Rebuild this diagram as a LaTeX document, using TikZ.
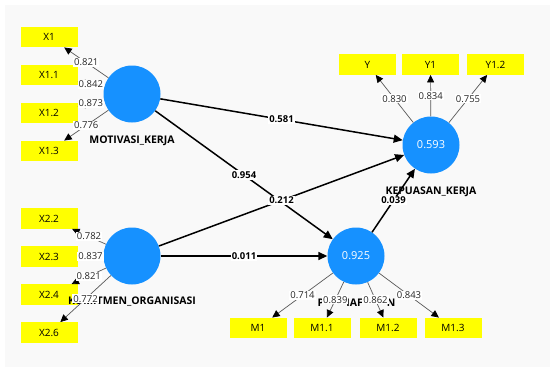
\documentclass[tikz,border=0pt]{standalone}
\usepackage{fontspec}
\setmainfont{Open Sans}
\usetikzlibrary{arrows.meta}
\definecolor{plsblue}{RGB}{22,145,255}
\definecolor{plsyellow}{RGB}{255,255,0}
\definecolor{bggrey}{RGB}{249,249,249}
\tikzset{
	lv/.style={circle,fill=plsblue,minimum size=57pt,inner sep=0pt,text=white,font=\fontsize{11}{13}\selectfont},
	mv/.style={rectangle,fill=plsyellow,minimum width=57pt,minimum height=20.5pt,inner sep=0pt,font=\fontsize{10}{12}\selectfont},
	lvname/.style={font=\fontsize{10.5}{12}\selectfont\bfseries,inner sep=0pt},
	ld/.style={draw=black!65,line width=0.7pt,-{Triangle[length=7.5pt,width=7pt,color=black]}},
	ldlab/.style={fill=white,inner sep=1pt,font=\fontsize{9.5}{11}\selectfont,text=black!85},
	pc/.style={line width=1.5pt,-{Triangle[length=9pt,width=8pt]}},
	pclab/.style={fill=white,inner sep=1pt,font=\fontsize{9.5}{11}\selectfont\bfseries}
}
\begin{document}
\begin{tikzpicture}[x=1pt,y=-1pt]
		\useasboundingbox (0,0) rectangle (555,372);
		\fill[bggrey] (5,5) rectangle (550,367);
		\node[lv] (mot) at (132,94) {};
		\node[lv] (kom) at (132,256) {};
		\node[lv] (kep) at (431,145) {0.593};
		\node[lv] (med) at (356,256) {0.925};
		\foreach \nm/\t/\y in {x1/X1/37,x11/X1.1/75,x12/X1.2/113,x13/X1.3/151}
			\node[mv] (\nm) at (49,\y) {\t};
		\foreach \nm/\t/\y in {x22/X2.2/218.5,x23/X2.3/256.5,x24/X2.4/294.5,x26/X2.6/332.5}
			\node[mv] (\nm) at (49,\y) {\t};
		\foreach \nm/\t/\x in {y0/Y/367.5,y1/Y1/430.5,y12/Y1.2/495.5}
			\node[mv] (\nm) at (\x,64.5) {\t};
		\foreach \nm/\t/\x in {m1/M1/258,m11/M1.1/322,m12/M1.2/388,m13/M1.3/453}
			\node[mv] (\nm) at (\x,328) {\t};
		\node[lvname] (motname) at (132,141) {MOTIVASI\_KERJA};
		\node[lvname] (komname) at (132,302) {KOMITMEN\_ORGANISASI};
		\node[lvname] (kepname) at (431,192) {KEPUASAN\_KERJA};
		\node[lvname] (medname) at (356.5,303) {P\hspace{22pt}IAF\hspace{24pt}N};
		\foreach \nm/\v in {x1/0.821,x11/0.842,x12/0.873,x13/0.776}
			\draw[ld] (mot) -- node[ldlab]{\v} (\nm);
		\foreach \nm/\v in {x22/0.782,x23/0.837,x24/0.821,x26/0.772}
			\draw[ld] (kom) -- node[ldlab]{\v} (\nm);
		\foreach \nm/\v in {y0/0.830,y1/0.834,y12/0.755}
			\draw[ld] (kep) -- node[ldlab]{\v} (\nm);
		\foreach \nm/\v in {m1/0.714,m11/0.839,m12/0.862,m13/0.843}
			\draw[ld] (med) -- node[ldlab]{\v} (\nm);
		\draw[pc] (mot) -- node[pclab]{0.581} (kep);
		\draw[pc] (mot) -- node[pclab]{0.954} (med);
		\draw[pc] (kom) -- node[pclab]{0.212} (kep);
		\draw[pc] (kom) -- node[pclab]{0.011} (med);
		\draw[pc] (med) -- node[pclab]{0.039} (kep);
	\end{tikzpicture}
\end{document}
